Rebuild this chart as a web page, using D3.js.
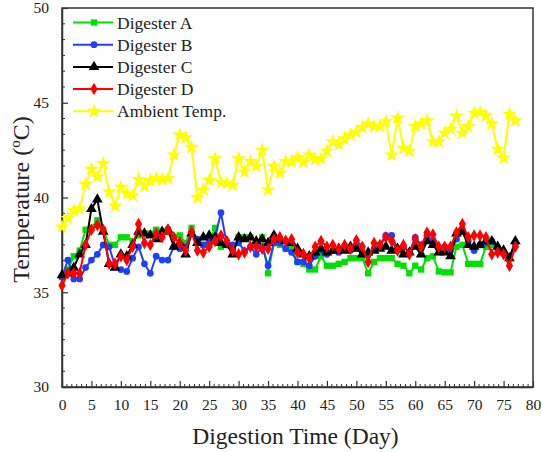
<!DOCTYPE html>
<html>
<head>
<meta charset="utf-8">
<script src="https://cdn.jsdelivr.net/npm/d3@7"></script>
<style>
  body { margin: 0; background: #fff; }
  svg text { font-family: 'Liberation Serif', 'Times New Roman', Times, 'DejaVu Serif', serif; fill: #222; }
</style>
</head>
<body>
<div id="chart"></div>
<script>
// days 0..77
var days = d3.range(0, 78);

var digesterA = [35.8, 36.2, 36.9, 37.2, 38.3, 38.4, 38.8, 38.3, 37.5, 37.5,
  37.9, 37.9, 37.7, 38.0, 38.1, 38.1, 38.3, 38.2, 38.3, 37.9,
  38.0, 37.6, 38.4, 37.6, 37.5, 37.6, 38.4, 37.4, 37.5, 37.2,
  37.9, 37.9, 37.9, 37.6, 37.9, 36.0, 37.6, 37.5, 37.3, 37.3,
  36.6, 36.5, 36.2, 36.2, 36.9, 36.4, 36.4, 36.5, 36.6, 36.8,
  36.8, 36.8, 36.0, 36.6, 36.8, 36.8, 36.8, 36.5, 36.4, 36.0,
  36.4, 36.2, 36.8, 36.9, 36.1, 36.05, 36.05, 37.4, 37.5, 36.5,
  36.5, 36.5, 37.4, 37.5, 37.3, 37.1, 36.9, 37.5];

var digesterB = [35.8, 36.7, 35.7, 35.7, 36.3, 36.7, 37.0, 37.5, 37.4, 36.4,
  36.2, 36.1, 36.8, 37.4, 36.5, 36.0, 36.9, 36.7, 36.7, 37.4,
  37.3, 37.4, 38.1, 37.8, 37.5, 37.7, 37.9, 39.2, 37.5, 37.5,
  37.6, 37.2, 37.4, 37.0, 37.4, 36.4, 37.6, 37.6, 37.3, 37.1,
  36.6, 36.6, 36.4, 36.9, 37.2, 37.0, 37.2, 37.1, 37.3, 37.2,
  37.4, 37.1, 37.0, 37.3, 37.5, 38.0, 38.0, 37.3, 37.4, 37.1,
  37.9, 37.5, 38.0, 37.7, 37.3, 37.4, 37.2, 37.8, 38.2, 37.7,
  37.2, 37.5, 37.6, 37.7, 37.3, 37.1, 36.8, 37.6];

var digesterC = [35.9, 36.0, 36.3, 37.0, 37.5, 39.4, 39.9, 38.2, 36.5, 36.3,
  37.0, 36.9, 37.5, 38.2, 38.1, 38.0, 37.8, 38.2, 38.3, 37.4,
  37.6, 37.0, 38.1, 37.6, 37.9, 38.0, 37.9, 37.6, 37.5, 37.0,
  37.9, 37.8, 37.9, 37.7, 37.8, 37.6, 38.0, 37.8, 37.7, 37.6,
  37.3, 37.0, 36.9, 37.1, 37.3, 37.1, 37.2, 37.3, 37.2, 37.4,
  37.3, 37.0, 37.1, 37.2, 37.3, 37.4, 37.2, 37.3, 37.0, 37.1,
  37.4, 37.0, 37.7, 37.5, 37.1, 37.1, 36.9, 38.1, 38.2, 37.5,
  37.4, 37.5, 37.7, 37.7, 37.4, 37.2, 36.8, 37.7];

var digesterD = [35.35, 36.0, 36.0, 36.0, 37.5, 38.3, 38.55, 38.3, 36.5, 36.5,
  36.9, 36.7, 37.4, 38.6, 37.6, 37.5, 38.1, 37.9, 38.3, 37.9,
  37.6, 37.2, 38.2, 37.2, 37.1, 37.4, 37.7, 38.0, 37.7, 37.2,
  37.0, 37.1, 37.4, 37.4, 37.3, 37.3, 37.8, 37.9, 37.7, 37.8,
  37.1, 37.0, 36.8, 37.4, 37.7, 37.4, 37.5, 37.3, 37.5, 37.3,
  37.75, 37.4, 36.6, 37.6, 37.5, 37.9, 37.7, 37.2, 37.5, 37.0,
  37.8, 37.4, 38.15, 38.05, 37.4, 37.4, 37.4, 38.15, 38.6, 37.9,
  38.0, 38.0, 37.9, 37.0, 37.1, 37.0, 36.4, 37.4];

var ambient = [38.45, 38.9, 39.3, 39.4, 40.7, 41.5, 41.1, 41.8, 40.3, 39.55,
  40.55, 40.2, 40.1, 40.95, 40.6, 40.9, 41.0, 40.95, 41.0, 42.25,
  43.3, 43.15, 42.65, 40.0, 40.4, 40.9, 42.05, 40.8, 40.75, 40.65,
  42.05, 41.35, 41.9, 41.65, 42.5, 40.4, 41.65, 41.3, 41.9, 41.9,
  42.1, 41.85, 42.25, 42.0, 42.05, 42.45, 42.95, 42.8, 43.1, 43.3,
  43.45, 43.7, 43.9, 43.75, 43.75, 44.0, 42.25, 44.2, 42.6, 42.45,
  43.75, 43.9, 44.05, 42.95, 42.95, 43.4, 43.6, 44.3, 43.4, 43.75,
  44.45, 44.5, 44.3, 43.9, 42.55, 42.1, 44.4, 44.05];

var seriesNames = ["Digester A", "Digester B", "Digester C", "Digester D", "Ambient Temp."];
var seriesColors = ["#00e000", "#1f3fff", "#000000", "#ff0000", "#ffff00"];
var seriesShapes = [d3.symbolSquare, d3.symbolCircle, d3.symbolTriangle, d3.symbolDiamond, d3.symbolStar];
var seriesSizes = [40, 36, 50, 45, 70];
var seriesValues = [digesterA, digesterB, digesterC, digesterD, ambient];

var xTicks = d3.range(0, 81, 5);
var yTicks = [30, 35, 40, 45, 50];

var serif = "'Liberation Serif', 'Times New Roman', Times, 'DejaVu Serif', serif";

var W = 542, H = 452;
var margin = { top: 8, right: 9, bottom: 65, left: 62 };
var width = W - margin.left - margin.right,
    height = H - margin.top - margin.bottom;

var svg = d3.select("#chart").append("svg")
    .attr("width", W)
    .attr("height", H)
    .attr("font-family", serif);

var g = svg.append("g")
    .attr("transform", "translate(" + margin.left + "," + margin.top + ")");

var xScale = d3.scaleLinear().domain([0, 80]).range([0, width]);
var yScale = d3.scaleLinear().domain([30, 50]).range([height, 0]);

// frame
g.append("rect")
    .attr("width", width).attr("height", height)
    .attr("fill", "none").attr("stroke", "#333").attr("stroke-width", 1.5);

// minor ticks (5 between majors)
var xMinor = d3.range(0, 80.001, 5 / 6).filter(function(v){ return Math.abs(v / 5 - Math.round(v / 5)) > 0.01; });
var yMinor = d3.range(30, 50.001, 5 / 6).filter(function(v){ return Math.abs(v / 5 - Math.round(v / 5)) > 0.01; });

g.append("g").selectAll("line").data(xMinor).enter().append("line")
    .attr("x1", function(d){ return xScale(d); }).attr("x2", function(d){ return xScale(d); })
    .attr("y1", height).attr("y2", height - 3)
    .attr("stroke", "#333").attr("stroke-width", 1);
g.append("g").selectAll("line").data(yMinor).enter().append("line")
    .attr("x1", 0).attr("x2", 3)
    .attr("y1", function(d){ return yScale(d); }).attr("y2", function(d){ return yScale(d); })
    .attr("stroke", "#333").attr("stroke-width", 1);

// major axes
var xAxis = g.append("g")
    .attr("transform", "translate(0," + height + ")")
    .call(d3.axisBottom(xScale).tickValues(xTicks).tickSizeInner(-6).tickSizeOuter(0).tickPadding(12));
var yAxis = g.append("g")
    .call(d3.axisLeft(yScale).tickValues(yTicks).tickSizeInner(-6).tickSizeOuter(0).tickPadding(13));

[xAxis, yAxis].forEach(function(ax){
  ax.attr("font-family", serif).attr("font-size", 15.5);
  ax.select(".domain").attr("stroke", "#333").attr("stroke-width", 1.5);
  ax.selectAll(".tick line").attr("stroke", "#333").attr("stroke-width", 1.2);
  ax.selectAll(".tick text").attr("fill", "#222");
});

// series
seriesValues.forEach(function(vals, si){
  var data = days.map(function(d, i){ return { day: d, t: vals[i] }; });
  var line = d3.line()
      .x(function(d){ return xScale(d.day); })
      .y(function(d){ return yScale(d.t); });
  g.append("path")
      .datum(data)
      .attr("d", line)
      .attr("fill", "none")
      .attr("stroke", seriesColors[si])
      .attr("stroke-width", 2);
  g.selectAll(".pt" + si)
      .data(data)
      .enter().append("path")
      .attr("class", "pt" + si)
      .attr("d", d3.symbol().type(seriesShapes[si]).size(seriesSizes[si]))
      .attr("transform", function(d){ return "translate(" + xScale(d.day) + "," + yScale(d.t) + ")"; })
      .attr("fill", seriesColors[si]);
});

// legend
var legend = g.append("g").attr("transform", "translate(11,14.5)");
seriesNames.forEach(function(name, si){
  var row = legend.append("g").attr("transform", "translate(0," + (si * 22.2) + ")");
  row.append("line").attr("x1", 0).attr("x2", 40).attr("y1", 0).attr("y2", 0)
      .attr("stroke", seriesColors[si]).attr("stroke-width", 2);
  row.append("path")
      .attr("d", d3.symbol().type(seriesShapes[si]).size(seriesSizes[si]))
      .attr("transform", "translate(21,0)")
      .attr("fill", seriesColors[si]);
  row.append("text").attr("x", 44).attr("y", 6)
      .attr("font-size", 17.5).text(name);
});

// axis titles
svg.append("text")
    .attr("x", margin.left + width / 2 - 2).attr("y", 444)
    .attr("text-anchor", "middle")
    .attr("font-size", 23.5)
    .text("Digestion Time (Day)");

var yt = svg.append("text")
    .attr("transform", "translate(29," + (margin.top + height / 2 + 2) + ") rotate(-90)")
    .attr("text-anchor", "middle")
    .attr("font-size", 24);
yt.append("tspan").text("Temperature (");
yt.append("tspan").attr("dy", -9).attr("font-size", 15).text("o");
yt.append("tspan").attr("dy", 9).text("C)");
</script>
</body>
</html>
